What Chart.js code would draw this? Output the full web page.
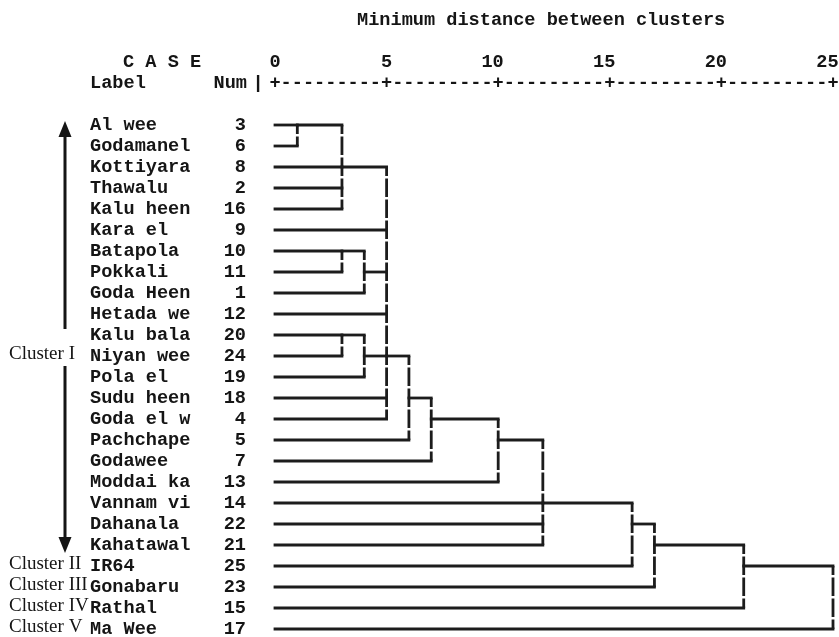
<!DOCTYPE html>
<html>
<head>
<meta charset="utf-8">
<script src="https://cdn.jsdelivr.net/npm/chart.js@4"></script>
<style>
  body { margin: 0; background: #fff; }
  #wrap { width: 839px; height: 637px; }
</style>
</head>
<body>
<div id="wrap"><canvas id="dendro"></canvas></div>
<script>
// cases in dendrogram order
const leafNames = ['Al wee', 'Godamanel', 'Kottiyara', 'Thawalu', 'Kalu heen', 'Kara el',
    'Batapola', 'Pokkali', 'Goda Heen', 'Hetada we', 'Kalu bala', 'Niyan wee', 'Pola el',
    'Sudu heen', 'Goda el w', 'Pachchape', 'Godawee', 'Moddai ka', 'Vannam vi', 'Dahanala',
    'Kahatawal', 'IR64', 'Gonabaru', 'Rathal', 'Ma Wee'];
const leafNums = [3, 6, 8, 2, 16, 9, 10, 11, 1, 12, 20, 24, 19, 18, 4, 5, 7, 13, 14, 22, 21, 25, 23, 15, 17];

// merges: ids 0..24 are cases, 25+j is merge j
const mergeMembers = [
    [0, 1], [25, 2, 3, 4], [6, 7], [27, 8], [10, 11], [29, 12],
    [26, 5, 28, 9, 30, 13, 14], [31, 15], [32, 16], [33, 17],
    [34, 18, 19, 20], [35, 21], [36, 22], [37, 23], [38, 24]
];
const mergeDistance = [1, 3, 3, 4, 3, 4, 5, 6, 7, 10, 12, 16, 17, 21, 25];
const mergeRow = [0, 2, 6, 7, 10, 11, 11, 13, 14, 15, 18, 19, 20, 21, 21];

const axisTicks = [0, 5, 10, 15, 20, 25];
const clusterNames = ['Cluster I', 'Cluster II', 'Cluster III', 'Cluster IV', 'Cluster V'];
const clusterRows = [11, 21, 22, 23, 24];

const MONO = '700 18.6px "Liberation Mono"';
const SERIF = '19px "Liberation Serif"';
const INK = '#151515';

// build the segments of the tree
const nLeaf = leafNames.length;
const nodeRow = leafNames.map((_, i) => i);
const nodeHeight = leafNames.map(() => 0);
const datasets = [];
mergeMembers.forEach((members, j) => {
    const d = mergeDistance[j];
    const rows = members.map(m => nodeRow[m]);
    members.forEach(m => {
        datasets.push({
            data: [{x: nodeHeight[m], y: nodeRow[m]}, {x: d, y: nodeRow[m]}],
            borderCapStyle: 'square'
        });
    });
    datasets.push({
        data: [{x: d, y: Math.min(...rows)}, {x: d, y: Math.max(...rows)}],
        borderCapStyle: 'butt',
        borderDash: [18.5, 2.5],
        borderDashOffset: 9.5
    });
    nodeRow[nLeaf + j] = mergeRow[j];
    nodeHeight[nLeaf + j] = d;
});
datasets.forEach(ds => Object.assign(ds, {
    showLine: true,
    pointRadius: 0,
    borderColor: '#1c1c1c',
    borderWidth: 2.8,
    clip: false
}));

const textPlugin = {
    id: 'spssText',
    afterDraw(chart) {
        const ctx = chart.ctx;
        const xs = chart.scales.x, ys = chart.scales.y;
        const charW = (xs.getPixelForValue(5) - xs.getPixelForValue(0)) / 10;
        ctx.save();
        ctx.fillStyle = INK;
        ctx.strokeStyle = INK;
        ctx.textBaseline = 'middle';
        ctx.font = MONO;

        // header
        ctx.textAlign = 'left';
        ctx.fillText('Minimum distance between clusters', 357, ys.getPixelForValue(-5));
        ctx.fillText('C A S E', 123, ys.getPixelForValue(-3));
        ctx.fillText('Label', 90, ys.getPixelForValue(-2));
        ctx.textAlign = 'right';
        ctx.fillText('Num', 247, ys.getPixelForValue(-2));
        ctx.textAlign = 'center';
        ctx.fillText('|', 258, ys.getPixelForValue(-2));

        // axis: tick numbers and the +----+ ruler
        axisTicks.forEach(t => {
            const px = xs.getPixelForValue(t);
            ctx.textAlign = 'right';
            ctx.fillText(String(t), px + charW / 2, ys.getPixelForValue(-3));
        });
        ctx.textAlign = 'center';
        const yAxis = ys.getPixelForValue(-2);
        for (let k = 0; k <= 50; k++) {
            ctx.fillText(k % 10 === 0 ? '+' : '-', xs.getPixelForValue(k / 2), yAxis);
        }

        // case labels and numbers
        leafNames.forEach((name, i) => {
            const y = ys.getPixelForValue(i);
            ctx.textAlign = 'left';
            ctx.fillText(name, 90, y);
            ctx.textAlign = 'right';
            ctx.fillText(String(leafNums[i]), 246, y);
        });

        // cluster annotations
        ctx.font = SERIF;
        ctx.textAlign = 'left';
        clusterNames.forEach((c, i) => {
            ctx.fillText(c, 9, ys.getPixelForValue(clusterRows[i]) - 2);
        });

        // double arrow for Cluster I
        const ax = 65;
        const top = ys.getPixelForValue(0) - 4;
        const bot = ys.getPixelForValue(20) + 8;
        const midY = ys.getPixelForValue(clusterRows[0]) - 3;
        ctx.lineWidth = 3;
        ctx.beginPath();
        ctx.moveTo(ax, top + 14); ctx.lineTo(ax, midY - 24);
        ctx.moveTo(ax, midY + 13); ctx.lineTo(ax, bot - 14);
        ctx.stroke();
        ctx.beginPath();
        ctx.moveTo(ax, top); ctx.lineTo(ax - 6.5, top + 16); ctx.lineTo(ax + 6.5, top + 16); ctx.closePath();
        ctx.moveTo(ax, bot); ctx.lineTo(ax - 6.5, bot - 16); ctx.lineTo(ax + 6.5, bot - 16); ctx.closePath();
        ctx.fill();
        ctx.restore();
    }
};

new Chart(document.getElementById('dendro'), {
    type: 'scatter',
    data: {datasets: datasets},
    options: {
        animation: false,
        responsive: true,
        maintainAspectRatio: false,
        layout: {padding: {left: 275, right: 6, top: 20, bottom: 8}},
        plugins: {
            legend: {display: false},
            tooltip: {enabled: false}
        },
        scales: {
            x: {type: 'linear', min: 0, max: 25, display: false},
            y: {type: 'linear', min: -5, max: 24, reverse: true, display: false}
        }
    },
    plugins: [textPlugin]
});
</script>
</body>
</html>
